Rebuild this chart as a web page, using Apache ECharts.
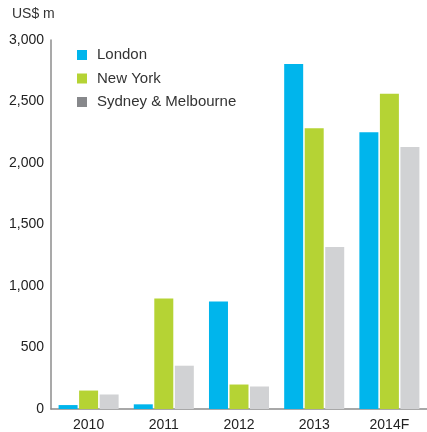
<!DOCTYPE html>
<html><head><meta charset="utf-8">
<script src="https://cdn.jsdelivr.net/npm/echarts@6/dist/echarts.min.js"></script>
<style>html,body{margin:0;padding:0;background:#fff}#c{width:427px;height:432px}</style>
</head><body><div id="c"></div>
<script>
const categories = ['2010', '2011', '2012', '2013', '2014F'];
const london = [32, 38, 875, 2805, 2250];
const newYork = [150, 899, 199, 2283, 2564];
const sydneyMelbourne = [118, 352, 183, 1317, 2130];
const seriesNames = ['London', 'New York', 'Sydney & Melbourne'];
const yTicks = [0, 500, 1000, 1500, 2000, 2500, 3000];

const font = 'Liberation Sans, Arial, Helvetica, sans-serif';
const chart = echarts.init(document.getElementById('c'), null, {renderer: 'canvas'});
chart.setOption({
  animation: false,
  backgroundColor: '#fff',
  title: {text: 'US$ m', left: 7, top: 2, textStyle: {fontFamily: font, fontSize: 14, fontWeight: 'normal', color: '#333'}},
  grid: {left: 51, right: 0, top: 40, bottom: 19, containLabel: false},
  legend: {
    orient: 'vertical', left: 72, top: 42, itemWidth: 10, itemHeight: 10, itemGap: 7.5,
    icon: 'rect',
    textStyle: {fontFamily: font, fontSize: 15, color: '#333', lineHeight: 16, padding: [0, 0, 0, 5]},
    data: [
      {name: seriesNames[0], itemStyle: {color: '#00b5ec'}},
      {name: seriesNames[1], itemStyle: {color: '#b5d334'}},
      {name: seriesNames[2], itemStyle: {color: '#87888b'}}
    ]
  },
  xAxis: {
    type: 'category', data: categories,
    axisLine: {lineStyle: {color: '#8c8c8c', width: 1.5}},
    axisTick: {show: false},
    axisLabel: {fontFamily: font, fontSize: 14, color: '#222', margin: 9}
  },
  yAxis: {
    type: 'value', min: yTicks[0], max: yTicks[yTicks.length - 1], interval: 500,
    axisLine: {show: true, lineStyle: {color: '#8c8c8c', width: 1.5}},
    axisTick: {show: false},
    splitLine: {show: false},
    axisLabel: {fontFamily: font, fontSize: 14, color: '#222', margin: 7,
      formatter: v => v.toLocaleString('en-US')}
  },
  series: [
    {name: seriesNames[0], type: 'bar', data: london, barWidth: 19, barGap: '8%', itemStyle: {color: '#00b5ec'}},
    {name: seriesNames[1], type: 'bar', data: newYork, barWidth: 19, barGap: '8%', itemStyle: {color: '#b5d334'}},
    {name: seriesNames[2], type: 'bar', data: sydneyMelbourne, barWidth: 19, barGap: '8%', itemStyle: {color: '#d1d2d4'}}
  ]
});
</script></body></html>
